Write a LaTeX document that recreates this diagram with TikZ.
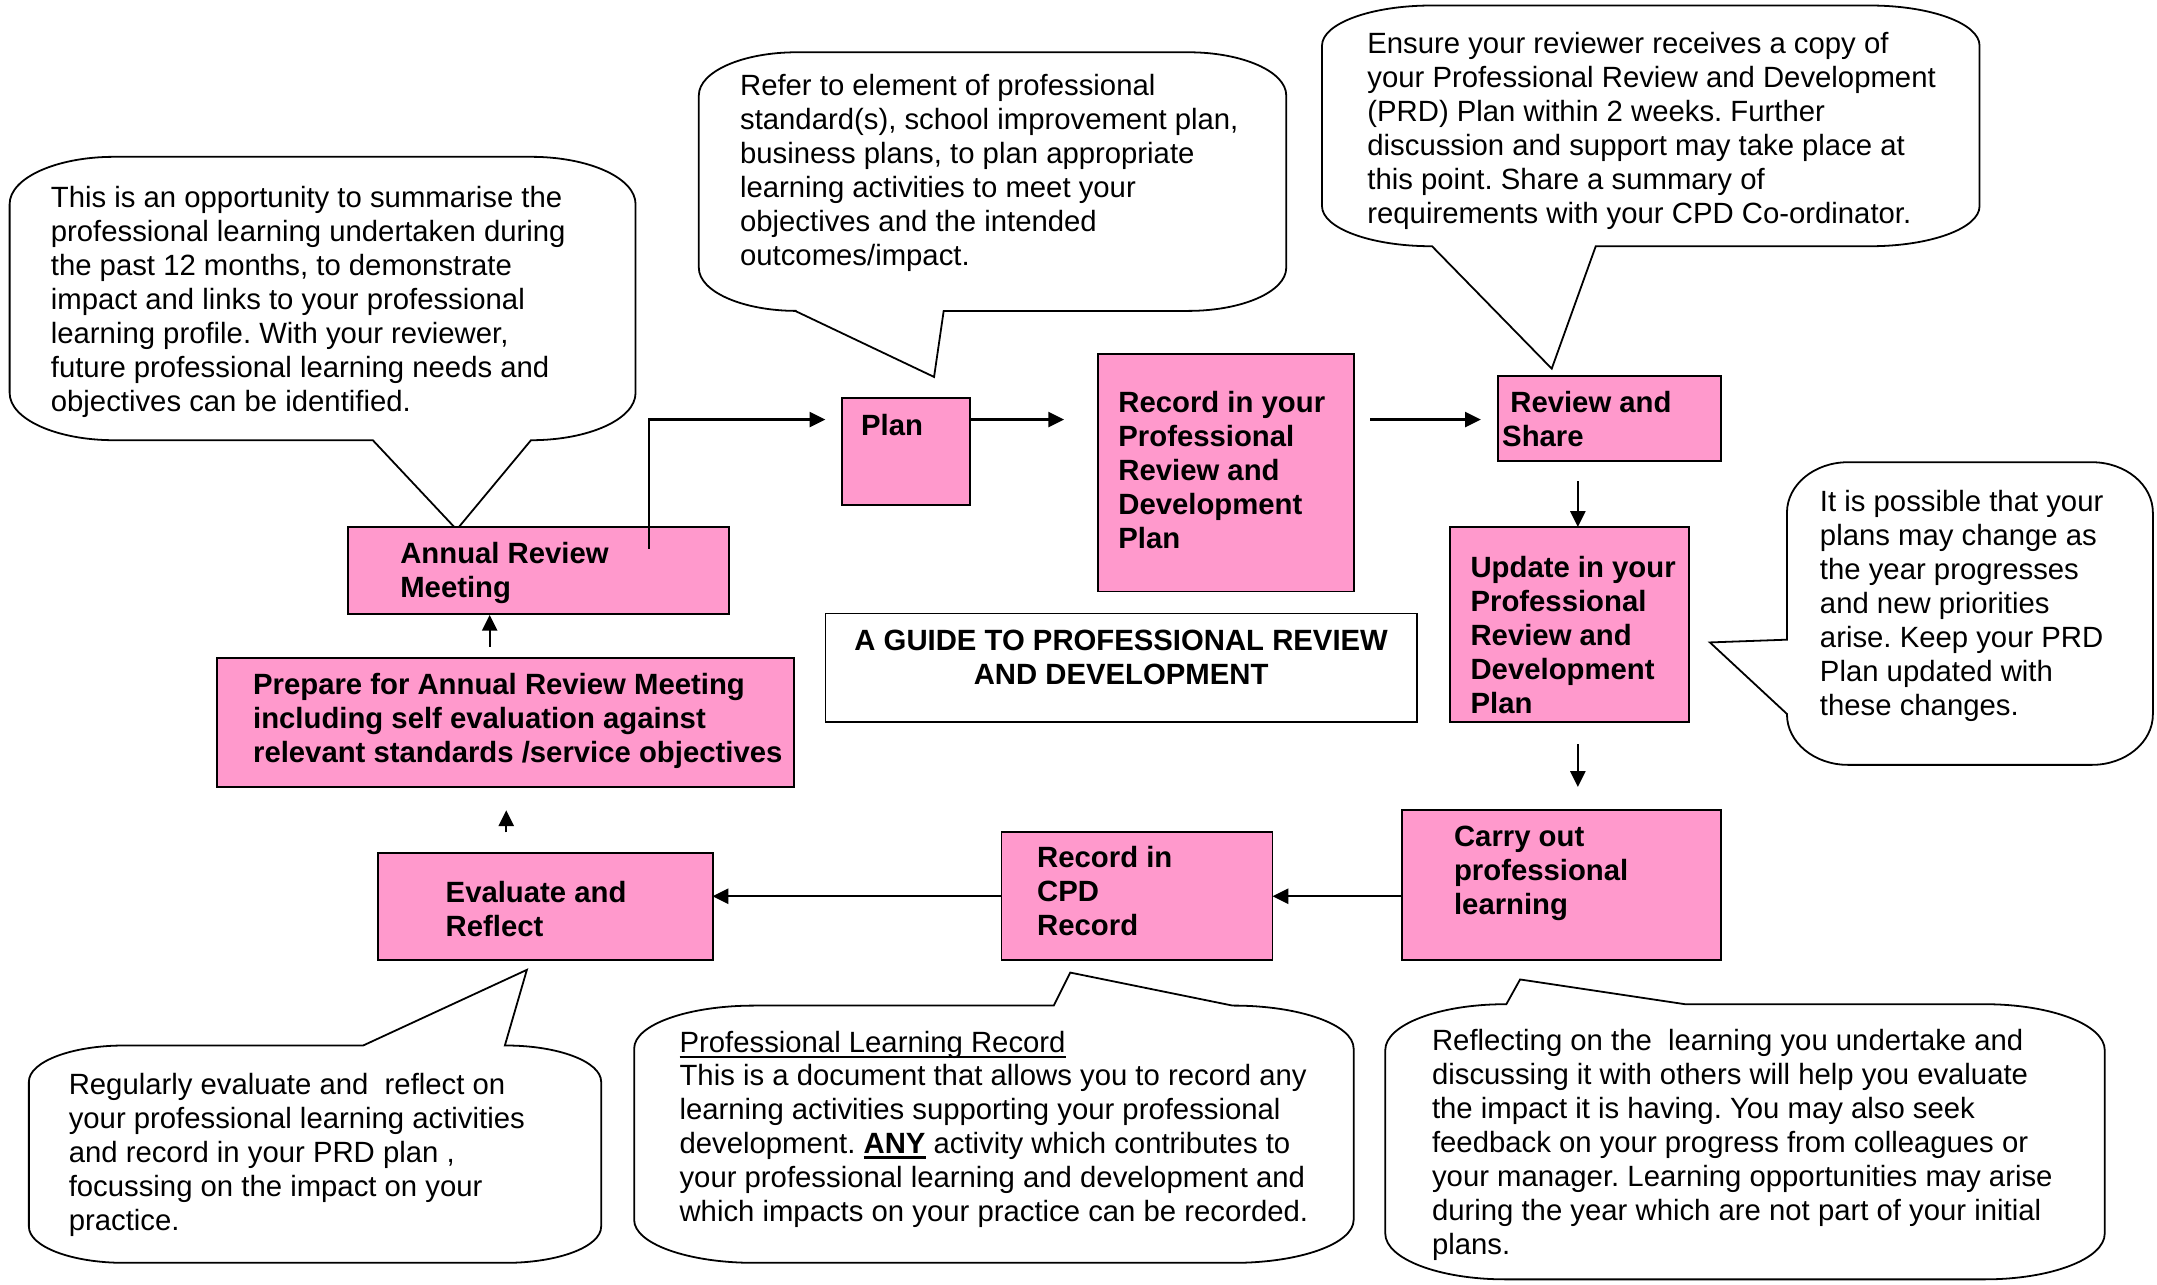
\documentclass[tikz,border=0pt]{standalone}
\usepackage{fontspec}
\setmainfont{Liberation Sans}
\usetikzlibrary{arrows.meta}
\definecolor{boxpink}{HTML}{FF99CC}

\newcommand\myul[2][1.3pt]{\setbox0\hbox{#2}\rlap{\rule[-4pt]{\wd0}{#1}}\box0\relax}

% rounded callout with elliptical corners (rx = w/6, ry = h/6); #5..#8 tail fragments on top/right/bottom/left
\newcommand\callout[8]{%
 \pgfmathsetmacro\cxa{#1}\pgfmathsetmacro\cya{#2}\pgfmathsetmacro\cxb{#3}\pgfmathsetmacro\cyb{#4}%
 \pgfmathsetmacro\crx{(#3-#1)/6}\pgfmathsetmacro\cry{(#4-#2)/6}%
 \pgfmathsetmacro\ckx{0.4477*\crx}\pgfmathsetmacro\cky{0.4477*\cry}%
 \draw[bub] (\cxa+\crx,\cya) #5 -- (\cxb-\crx,\cya)
   .. controls (\cxb-\ckx,\cya) and (\cxb,\cya+\cky) .. (\cxb,\cya+\cry) #6 -- (\cxb,\cyb-\cry)
   .. controls (\cxb,\cyb-\cky) and (\cxb-\ckx,\cyb) .. (\cxb-\crx,\cyb) #7 -- (\cxa+\crx,\cyb)
   .. controls (\cxa+\ckx,\cyb) and (\cxa,\cyb-\cky) .. (\cxa,\cyb-\cry) #8 -- (\cxa,\cya+\cry)
   .. controls (\cxa,\cya+\cky) and (\cxa+\ckx,\cya) .. (\cxa+\crx,\cya) -- cycle;}

\begin{document}
\frenchspacing
\begin{tikzpicture}[x=1pt,y=-1pt,
  txt/.style={font=\fontsize{21.3pt}{24.7pt}\selectfont\frenchspacing, inner sep=0pt, outer sep=0pt, anchor=north west, align=left, text=black},
  btxt/.style={txt, font=\fontsize{21.3pt}{24.7pt}\selectfont\frenchspacing\bfseries},
  pbox/.style={draw=black, line width=1.4pt, fill=boxpink, inner sep=0pt, outer sep=0pt, anchor=north west},
  wbox/.style={pbox, fill=white, line width=1.2pt},
  bub/.style={draw=black, line width=1.3pt, fill=white, line join=miter},
  arr/.style={line width=1.6pt, -{Triangle[length=11.5pt,width=11pt]}}
]
\path[use as bounding box, fill=white] (0,0) rectangle (1568,934);

% ---------- callouts ----------
\callout{7}{114}{462}{320}{}{}{-- (386,320) -- (332,385) -- (271,320)}{}
\callout{508}{38}{935}{226}{}{}{-- (686,226) -- (679,274) -- (578,226)}{}
\callout{961}{4}{1439}{179}{}{}{-- (1160,179) -- (1128,268) -- (1041,179)}{}
\callout{1299}{336}{1565}{556}{}{}{}{-- (1299,519) -- (1243,467) -- (1299,465)}
\callout{21}{760}{437}{918}{-- (264,760) -- (383,705) -- (367,760)}{}{}{}
\callout{461}{731}{984}{918}{-- (766,731) -- (778,707) -- (896,731)}{}{}{}
\callout{1007}{730}{1530}{930}{-- (1095,730) -- (1105,712) -- (1225,730)}{}{}{}

\node[txt] (c1) at (37,135.3) {This is an opportunity to summarise the\\professional learning undertaken during\\the past 12 months, to demonstrate\\impact and links to your professional\\learning profile. With your reviewer,\\future professional learning needs and\\objectives can be identified.};
\node[txt] (c2) at (538,54.3) {Refer to element of professional\\standard(s), school improvement plan,\\business plans, to plan appropriate\\learning activities to meet your\\objectives and the intended\\outcomes/impact.};
\node[txt] (c3) at (994,23.3) {Ensure your reviewer receives a copy of\\your Professional Review and Development\\(PRD) Plan within 2 weeks. Further\\discussion and support may take place at\\this point. Share a summary of\\requirements with your CPD Co-ordinator.};
\node[txt] (c5) at (1323,356.7) {It is possible that your\\plans may change as\\the year progresses\\and new priorities\\arise. Keep your PRD\\Plan updated with\\these changes.};
\node[txt] (c6) at (50,780.5) {Regularly evaluate and\ \ reflect on\\your professional learning activities\\and record in your PRD plan ,\\focussing on the impact on your\\practice.};
\node[txt] (c7) at (494,749.3) {\myul{Professional Learning Record}\\This is a document that allows you to record any\\learning activities supporting your professional\\development. \myul[2.4pt]{\textbf{ANY}} activity which contributes to\\your professional learning and development and\\which impacts on your practice can be recorded.};
\node[txt] (c8) at (1041,748.3) {Reflecting on the\ \ learning you undertake and\\discussing it with others will help you evaluate\\the impact it is having. You may also seek\\feedback on your progress from colleagues or\\your manager. Learning opportunities may arise\\during the year which are not part of your initial\\plans.};

% ---------- boxes ----------
\node[pbox, minimum width=277pt, minimum height=63pt] (annual) at (253,383) {};
\node[pbox, minimum width=93pt, minimum height=78pt] (plan) at (612,289) {};
\node[pbox, minimum width=186pt, minimum height=173pt] (recprd) at (798,257) {};
\node[pbox, minimum width=162pt, minimum height=62pt] (review) at (1089,273) {};
\node[pbox, minimum width=174pt, minimum height=142pt] (update) at (1054,383) {};
\node[wbox, minimum width=430pt, minimum height=79pt] (guide) at (600,446) {};
\node[pbox, minimum width=419pt, minimum height=94pt] (prepare) at (158,478) {};
\node[pbox, minimum width=232pt, minimum height=109pt] (carry) at (1019,589) {};
\node[pbox, minimum width=197pt, minimum height=93pt] (cpd) at (728,605) {};
\node[pbox, minimum width=243pt, minimum height=78pt] (eval) at (275,620) {};

\node[btxt] (annual-t) at ([xshift=38pt,yshift=-11.3pt]annual.north west) {Annual Review\\Meeting};
\node[btxt] (plan-t) at ([xshift=14pt,yshift=-12.3pt]plan.north west) {Plan};
\node[btxt] (recprd-t) at ([xshift=15pt,yshift=-27.3pt]recprd.north west) {Record in your\\Professional\\Review and\\Development\\Plan};
\node[btxt] (review-t) at ([xshift=3pt,yshift=-11.3pt]review.north west) {\ Review and\\Share};
\node[btxt] (update-t) at ([xshift=15pt,yshift=-21.3pt]update.north west) {Update in your\\Professional\\Review and\\Development\\Plan};
\node[btxt, anchor=north, align=center] (guide-t) at ([yshift=-12.3pt]guide.north) {A GUIDE TO PROFESSIONAL REVIEW\\AND DEVELOPMENT};
\node[btxt] (prepare-t) at ([xshift=26pt,yshift=-11.3pt]prepare.north west) {Prepare for Annual Review Meeting\\including self evaluation against\\relevant standards /service objectives};
\node[btxt] (carry-t) at ([xshift=38pt,yshift=-11.3pt]carry.north west) {Carry out\\professional\\learning};
\node[btxt] (cpd-t) at ([xshift=26pt,yshift=-10.3pt]cpd.north west) {Record in\\CPD\\Record};
\node[btxt] (eval-t) at ([xshift=49pt,yshift=-20.3pt]eval.north west) {Evaluate and\\Reflect};

% ---------- connectors ----------
\coordinate (a1) at (472,399);
\draw[arr, shorten >=12pt] (a1) |- ([yshift=-16pt]plan.north west);
\coordinate (p1) at ([yshift=-16pt]plan.north east);
\draw[arr, shorten >=24.5pt] (p1) -- (p1 -| recprd.west);
\coordinate (r1) at ([yshift=-48pt]recprd.north east);
\draw[arr, shorten <=12pt, shorten >=12.5pt] (r1) -- (r1 -| review.west);
\coordinate (vx1) at (1147,0);
\draw[arr, shorten <=15pt] (review.south -| vx1) -- (update.north -| vx1);
\draw[arr, shorten <=16pt, shorten >=17pt] (update.south -| vx1) -- (carry.north -| vx1);
\draw[arr] (carry.west |- cpd.east) -- (cpd.east);
\draw[arr] (cpd.west) -- (cpd.west -| eval.east);
\coordinate (vx2) at (368,0);
\draw[arr, shorten <=15pt, shorten >=17pt] (eval.north -| vx2) -- (prepare.south -| vx2);
\coordinate (vx3) at (356,0);
\draw[arr, shorten <=8pt, shorten >=1pt] (prepare.north -| vx3) -- (annual.south -| vx3);
\end{tikzpicture}
\end{document}
